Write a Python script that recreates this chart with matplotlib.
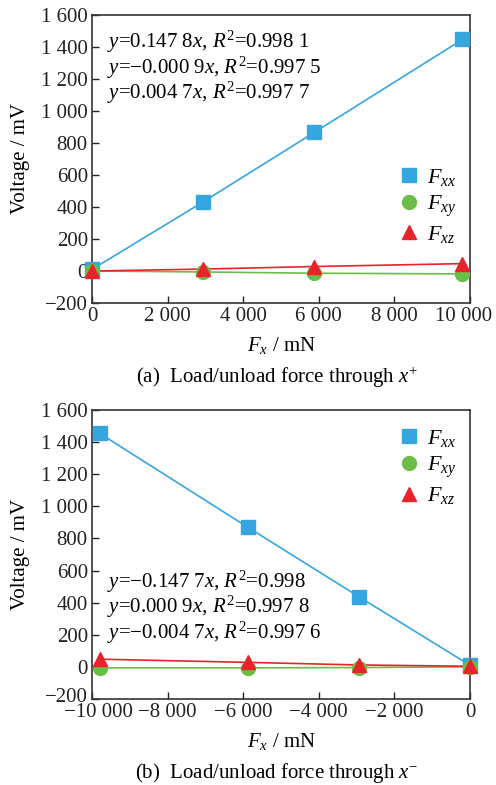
import numpy as np
import matplotlib
matplotlib.use("Agg")
import matplotlib.pyplot as plt
import matplotlib.transforms as mtrans
from matplotlib.ticker import FuncFormatter

plt.rcParams['font.family'] = ['Liberation Serif', 'DejaVu Serif']
plt.rcParams['mathtext.fontset'] = 'custom'
plt.rcParams['mathtext.rm'] = 'Liberation Serif'
plt.rcParams['mathtext.it'] = 'Liberation Serif:italic'
plt.rcParams['mathtext.bf'] = 'Liberation Serif:bold'

# Panel (a): load through x+
xa = [0, 2940, 5880, 9800]
fxx_a = [10, 432, 866, 1447]
fxy_a = [0, -6, -14, -18]
fxz_a = [0, 12, 28, 46]
eq_a = [r"$y$=0.147 8$x$, $R^2$=0.998 1",
        r"$y$=−0.000 9$x$, $R^2$=0.997 5",
        r"$y$=0.004 7$x$, $R^2$=0.997 7"]

# Panel (b): load through x-
xb = [-9800, -5880, -2940, 0]
fxx_b = [1455, 870, 437, 10]
fxy_b = [-6, -6, -4, 0]
fxz_b = [48, 28, 12, 4]
eq_b = [r"$y$=−0.147 7$x$, $R^2$=0.998",
        r"$y$=0.000 9$x$, $R^2$=0.997 8",
        r"$y$=−0.004 7$x$, $R^2$=0.997 6"]

labels = [r"$F_{xx}$", r"$F_{xy}$", r"$F_{xz}$"]
colors = ["#35a6df", "#6cbd45", "#e8232b"]
markers = ["s", "o", "^"]

W, H = 496, 785
fig = plt.figure(figsize=(W/100, H/100), dpi=100)

def fmt(v, pos):
    s = f"{int(round(v)):,}".replace(",", " ")
    return s.replace("-", "−")

def panel(rect, x, series, eqs, xlim, xticks, eq_pos, eq_step, leg_anchor):
    ax = fig.add_axes(rect)
    for ys, c, m, lab in zip(series, colors, markers, labels):
        ax.plot(x, ys, color=c, lw=1.2, zorder=2)
        ax.plot(x, ys, ls='none', marker=m, ms=10, color=c, label=lab, zorder=3, clip_on=False)
    ax.set_xlim(*xlim)
    ax.set_ylim(-200, 1600)
    ax.set_xticks(xticks)
    ax.set_yticks(np.arange(-200, 1601, 200))
    ax.xaxis.set_major_formatter(FuncFormatter(fmt))
    ax.yaxis.set_major_formatter(FuncFormatter(fmt))
    ax.tick_params(direction='in', length=5, width=1, labelsize=15, pad=3,
                   colors='#222222')
    for s in ax.spines.values():
        s.set_linewidth(1.2)
        s.set_color('#333333')
    ax.set_ylabel("Voltage / mV", fontsize=15, labelpad=8)
    ax.set_xlabel(r"$F_x$ / mN", fontsize=15, labelpad=6)
    for i, e in enumerate(eqs):
        ax.text(eq_pos[0], eq_pos[1] - i*eq_step, e, transform=ax.transAxes,
                fontsize=15, va='center', ha='left')
    ax.legend(loc='upper right', bbox_to_anchor=leg_anchor, frameon=False,
              fontsize=16, handlelength=1.0, handletextpad=0.3,
              labelspacing=0.25, borderaxespad=0.2)
    return ax

axa = panel([92/W, 1-303/H, 378/W, 288/H], xa, [fxx_a, fxy_a, fxz_a], eq_a,
            (0, 10000), np.arange(0, 10001, 2000), (0.04, 0.905), 0.087, (1.0, 0.52))
fig.text(277/W, 1-377/H, r"(a)  Load/unload force through $x^{+}$", fontsize=15,
         ha='center', va='center')

axb = panel([92/W, 1-699/H, 378/W, 289/H], xb, [fxx_b, fxy_b, fxz_b], eq_b,
            (-10000, 0), np.arange(-10000, 1, 2000), (0.04, 0.405), 0.088, (1.0, 0.985))
fig.text(277/W, 1-773/H, r"(b)  Load/unload force through $x^{-}$", fontsize=15,
         ha='center', va='center')

# nudge edge tick labels as in the reference
fig.canvas.draw()
lab = axa.get_xticklabels()[-1]
lab.set_transform(lab.get_transform() + mtrans.ScaledTranslation(-6/100, 0, fig.dpi_scale_trans))
lab = axb.get_xticklabels()[0]
lab.set_transform(lab.get_transform() + mtrans.ScaledTranslation(6/100, 0, fig.dpi_scale_trans))
lab = axb.get_yticklabels()[0]
lab.set_transform(lab.get_transform() + mtrans.ScaledTranslation(0, 4/100, fig.dpi_scale_trans))

fig.savefig("out.png", dpi=100)
